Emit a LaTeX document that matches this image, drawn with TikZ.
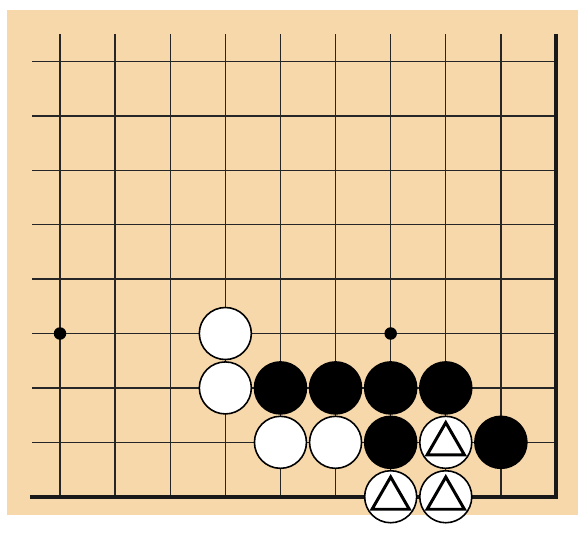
\documentclass[tikz,border=0pt]{standalone}
\usetikzlibrary{shapes.geometric}
\definecolor{boardcolor}{RGB}{247,216,170}
\tikzset{
  wstone/.style={circle,draw,fill=white,line width=0.9pt,minimum size=1.04cm,inner sep=0pt},
  bstone/.style={circle,draw,fill=black,line width=0.9pt,minimum size=1.04cm,inner sep=0pt},
  starpt/.style={circle,fill=black,minimum size=0.25cm,inner sep=0pt},
  trimark/.style={regular polygon,regular polygon sides=3,draw,line width=1.7pt,minimum size=0.86cm,inner sep=0pt},
}
\begin{document}
\begin{tikzpicture}[x=1.102cm,y=1.088cm]
\useasboundingbox (-1.089,-0.649) rectangle (9.49,9.13);
\fill[boardcolor] (-0.962,-0.336) rectangle (9.40,8.95);

% board lines
\draw[line width=0.8pt,black!85,xstep=1.102cm,ystep=1.088cm] (-0.5,0) grid (9,8.5);
\draw[line width=2.4pt,black!90] (-0.54,0) -- (9,0) -- (9,8.5);

\node[starpt] (star1) at (0,3) {};
\node[starpt] (star2) at (6,3) {};

% white stones
\node[wstone] (w33) at (3,3) {};
\node[wstone] (w32) at (3,2) {};
\node[wstone] (w41) at (4,1) {};
\node[wstone] (w51) at (5,1) {};
\node[wstone] (w71) at (7,1) {};
\node[wstone] (w60) at (6,0) {};
\node[wstone] (w70) at (7,0) {};

% black stones
\node[bstone] (b42) at (4,2) {};
\node[bstone] (b52) at (5,2) {};
\node[bstone] (b62) at (6,2) {};
\node[bstone] (b72) at (7,2) {};
\node[bstone] (b61) at (6,1) {};
\node[bstone] (b81) at (8,1) {};

% marked stones
\node[trimark] (t71) at ([yshift=-1pt]w71.center) {};
\node[trimark] (t60) at ([yshift=-1pt]w60.center) {};
\node[trimark] (t70) at ([yshift=-1pt]w70.center) {};
\end{tikzpicture}
\end{document}
